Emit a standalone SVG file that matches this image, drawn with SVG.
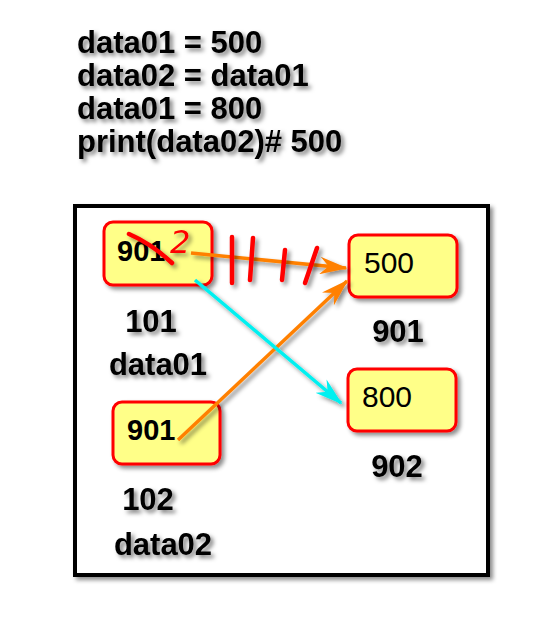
<svg xmlns="http://www.w3.org/2000/svg" width="557" height="617" viewBox="0 0 557 617">
<defs>
<filter id="sh" x="-20%" y="-20%" width="150%" height="150%">
<feDropShadow dx="3" dy="3" stdDeviation="2" flood-color="#000" flood-opacity="0.45"/>
</filter>
<filter id="tsh" x="-20%" y="-30%" width="150%" height="170%">
<feDropShadow dx="3" dy="3" stdDeviation="2" flood-color="#000" flood-opacity="0.5"/>
</filter>
<marker id="ao" markerWidth="8" markerHeight="5" refX="7.5" refY="2.5" orient="auto" markerUnits="strokeWidth">
<path d="M0,0 L8,2.5 L0,5 L2.5,2.5 Z" fill="#ff8000"/>
</marker>
<marker id="ac" markerWidth="8" markerHeight="5" refX="7.5" refY="2.5" orient="auto" markerUnits="strokeWidth">
<path d="M0,0 L8,2.5 L0,5 L2.5,2.5 Z" fill="#00f0f0"/>
</marker>
</defs>
<style>
.code{font-family:"Liberation Sans",Arial,sans-serif;font-weight:bold;font-size:31px;fill:#000;}
.lbl{font-family:"Liberation Sans",Arial,sans-serif;font-weight:bold;font-size:31px;fill:#000;}
.val{font-family:"Liberation Sans",Arial,sans-serif;font-size:30px;fill:#000;}
.valb{font-family:"Liberation Sans",Arial,sans-serif;font-weight:bold;font-size:29px;fill:#000;}
.box{fill:#ffff88;stroke:#ff0000;stroke-width:3;}
.ink{stroke:#ff0000;stroke-width:4.5;fill:none;stroke-linecap:round;}
</style>
<rect width="557" height="617" fill="#fff"/>
<g id="code" filter="url(#tsh)">
<text class="code" x="77" y="53">data01 = 500</text>
<text class="code" x="77" y="86">data02 = data01</text>
<text class="code" x="77" y="119">data01 = 800</text>
<text class="code" x="77" y="152">print(data02)# 500</text>
</g>
<g id="frame">
<rect x="75" y="206" width="413" height="369" fill="#fff" stroke="#000" stroke-width="4" filter="url(#sh)"/>
</g>
<g id="n101">
<rect class="box" x="104" y="222" width="108" height="63" rx="9" filter="url(#sh)"/>
<text class="valb" x="117" y="261">901</text>
<g filter="url(#tsh)">
<text class="lbl" x="151" y="332" text-anchor="middle">101</text>
<text class="lbl" x="158" y="375" text-anchor="middle">data01</text>
</g>
</g>
<g id="n901">
<rect class="box" x="349" y="235" width="108" height="62" rx="9" filter="url(#sh)"/>
<text class="val" x="364" y="273">500</text>
<text class="lbl" x="398" y="342" text-anchor="middle" filter="url(#tsh)">901</text>
</g>
<g id="n902">
<rect class="box" x="348" y="369" width="108" height="62" rx="9" filter="url(#sh)"/>
<text class="val" x="362" y="407">800</text>
<text class="lbl" x="397" y="477" text-anchor="middle" filter="url(#tsh)">902</text>
</g>
<g id="n102">
<rect class="box" x="113" y="402" width="107" height="62" rx="9" filter="url(#sh)"/>
<text class="valb" x="127" y="440">901</text>
<g filter="url(#tsh)">
<text class="lbl" x="148" y="510" text-anchor="middle">102</text>
<text class="lbl" x="163" y="555" text-anchor="middle">data02</text>
</g>
</g>
<g id="connectors" filter="url(#sh)">
<line x1="191" y1="253" x2="346" y2="268" stroke="#ff8000" stroke-width="3.5" marker-end="url(#ao)"/>
<line x1="178" y1="440" x2="347" y2="281" stroke="#ff8000" stroke-width="3.5" marker-end="url(#ao)"/>
<line x1="195" y1="280" x2="341" y2="403" stroke="#00f0f0" stroke-width="3.5" marker-end="url(#ac)"/>
</g>
<g id="annotations" filter="url(#sh)">
<path class="ink" d="M129,234 Q152,244 172,263"/>
<text x="170" y="253" font-family="'DejaVu Sans',sans-serif" font-style="italic" font-size="32" fill="#ff0000">2</text>
<path class="ink" d="M232,237 L232,283"/>
<path class="ink" d="M253,238 L250,280"/>
<path class="ink" d="M285,250 L282,280"/>
<path class="ink" d="M317,248 L305,283"/>
</g>
</svg>
